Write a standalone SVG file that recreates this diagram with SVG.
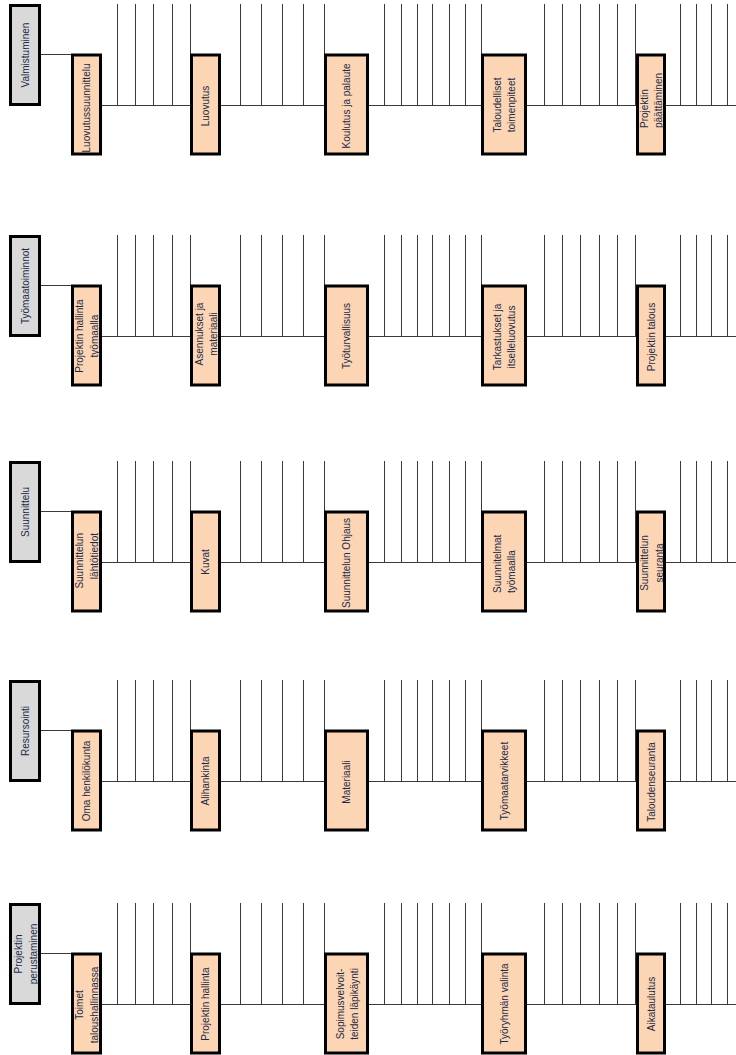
<svg xmlns="http://www.w3.org/2000/svg" xmlns:xlink="http://www.w3.org/1999/xlink" width="736" height="1055" viewBox="0 0 736 1055">
<style>
.ln{stroke:#3a3a3a;stroke-width:1;fill:none}
.hd{fill:#d9d9d9;stroke:#000;stroke-width:3}
.bx{fill:#fcd5b4;stroke:#000;stroke-width:3}
text{font-family:"Liberation Sans",Arial,sans-serif;font-size:10px;fill:#1b2a47;dominant-baseline:central}
.c{text-anchor:middle}
.s{text-anchor:start}
.e{text-anchor:end}
</style>
<defs>
<g id="band">
<path class="ln" d="M41,50.5H71 M102,101.5H736 M117.5,0V101.5 M135.5,0V101.5 M153.5,0V101.5 M172.5,0V101.5 M190.5,0V101.5 M240.5,0V101.5 M261.5,0V101.5 M282.5,0V101.5 M303.5,0V101.5 M324.5,0V101.5 M384.5,0V101.5 M401.5,0V101.5 M417.5,0V101.5 M432.5,0V101.5 M449.5,0V101.5 M465.5,0V101.5 M481.5,0V101.5 M544.5,0V101.5 M562.5,0V101.5 M580.5,0V101.5 M599.5,0V101.5 M617.5,0V101.5 M635.5,0V101.5 M680.5,0V101.5 M696.5,0V101.5 M711.5,0V101.5 M727.5,0V101.5"/>
</g>
</defs>
<g id="connectors">
<use xlink:href="#band" href="#band" transform="translate(0,4)"/>
<use xlink:href="#band" href="#band" transform="translate(0,235)"/>
<use xlink:href="#band" href="#band" transform="translate(0,461)"/>
<use xlink:href="#band" href="#band" transform="translate(0,680)"/>
<use xlink:href="#band" href="#band" transform="translate(0,903)"/>
</g>

<!-- Band 1 -->
<g id="valmistuminen"><rect class="hd" x="10.5" y="5.5" width="29" height="99"/><text class="c" transform="translate(25,55) rotate(-90)">Valmistuminen</text></g>
<g id="luovutussuunnittelu"><rect class="bx" x="72.5" y="55" width="28" height="99"/><text class="c" transform="translate(86.5,108) rotate(-90)">Luovutussuunnittelu</text></g>
<g id="luovutus"><rect class="bx" x="191.5" y="55" width="28" height="99"/><text class="c" transform="translate(205.5,106) rotate(-90)">Luovutus</text></g>
<g id="koulutus"><rect class="bx" x="325.5" y="55" width="42" height="99"/><text class="c" transform="translate(346.5,106) rotate(-90)">Koulutus ja palaute</text></g>
<g id="taloudelliset"><rect class="bx" x="482.5" y="55" width="43" height="99"/><text class="c" transform="translate(504,105) rotate(-90)"><tspan x="0" y="-7">Taloudelliset</tspan><tspan x="0" y="7">toimenpiteet</tspan></text></g>
<g id="paattaminen"><rect class="bx" x="637.5" y="55" width="27" height="99"/><text class="s" transform="translate(651,128) rotate(-90)"><tspan x="0" y="-7">Projektin</tspan><tspan x="0" y="7">päättäminen</tspan></text></g>

<!-- Band 2 -->
<g id="tyomaatoiminnot"><rect class="hd" x="10.5" y="236.5" width="29" height="99"/><text class="c" transform="translate(25,286) rotate(-90)">Työmaatoiminnot</text></g>
<g id="hallinta-tyomaalla"><rect class="bx" x="72.5" y="286" width="28" height="99"/><text class="c" transform="translate(86.5,336) rotate(-90)"><tspan x="0" y="-7.5">Projektin hallinta</tspan><tspan x="0" y="7.5">työmaalla</tspan></text></g>
<g id="asennukset"><rect class="bx" x="191.5" y="286" width="28" height="99"/><text class="c" transform="translate(205.5,334) rotate(-90)"><tspan x="0" y="-7">Asennukset ja</tspan><tspan x="0" y="7">materiaali</tspan></text></g>
<g id="tyoturvallisuus"><rect class="bx" x="325.5" y="286" width="42" height="99"/><text class="c" transform="translate(346.5,336) rotate(-90)">Työturvallisuus</text></g>
<g id="tarkastukset"><rect class="bx" x="482.5" y="286" width="43" height="99"/><text class="c" transform="translate(504,337) rotate(-90)"><tspan x="0" y="-7">Tarkastukset ja</tspan><tspan x="0" y="7">itselleluovutus</tspan></text></g>
<g id="projektin-talous"><rect class="bx" x="637.5" y="286" width="27" height="99"/><text class="c" transform="translate(651,337) rotate(-90)">Projektin talous</text></g>

<!-- Band 3 -->
<g id="suunnittelu"><rect class="hd" x="10.5" y="462.5" width="29" height="99"/><text class="c" transform="translate(25,512) rotate(-90)">Suunnittelu</text></g>
<g id="lahtotiedot"><rect class="bx" x="72.5" y="512" width="28" height="99"/><text class="e" transform="translate(86.5,533) rotate(-90)"><tspan x="0" y="-7.5">Suunnittelun</tspan><tspan x="0" y="7.5">lähtötiedot</tspan></text></g>
<g id="kuvat"><rect class="bx" x="191.5" y="512" width="28" height="99"/><text class="c" transform="translate(205.5,562) rotate(-90)">Kuvat</text></g>
<g id="ohjaus"><rect class="bx" x="325.5" y="512" width="42" height="99"/><text class="c" transform="translate(346.5,563) rotate(-90)">Suunnittelun Ohjaus</text></g>
<g id="suunnitelmat"><rect class="bx" x="482.5" y="512" width="43" height="99"/><text class="s" transform="translate(504,593) rotate(-90)"><tspan x="0" y="-7">Suunnitelmat</tspan><tspan x="0" y="6.5">työmaalla</tspan></text></g>
<g id="seuranta"><rect class="bx" x="637.5" y="512" width="27" height="99"/><text class="c" transform="translate(651,563) rotate(-90)"><tspan x="0" y="-7.5">Suunnittelun</tspan><tspan x="0" y="7.5">seuranta</tspan></text></g>

<!-- Band 4 -->
<g id="resursointi"><rect class="hd" x="10.5" y="681.5" width="29" height="99"/><text class="c" transform="translate(25,731) rotate(-90)">Resursointi</text></g>
<g id="oma-henkilokunta"><rect class="bx" x="72.5" y="731" width="28" height="99"/><text class="c" transform="translate(86.5,781) rotate(-90)">Oma henkilökunta</text></g>
<g id="alihankinta"><rect class="bx" x="191.5" y="731" width="28" height="99"/><text class="c" transform="translate(205.5,781) rotate(-90)">Alihankinta</text></g>
<g id="materiaali"><rect class="bx" x="325.5" y="731" width="42" height="99"/><text class="c" transform="translate(346.5,782) rotate(-90)">Materiaali</text></g>
<g id="tyomaatarvikkeet"><rect class="bx" x="482.5" y="731" width="43" height="99"/><text class="c" transform="translate(504,781) rotate(-90)">Työmaatarvikkeet</text></g>
<g id="taloudenseuranta"><rect class="bx" x="637.5" y="731" width="27" height="99"/><text class="c" transform="translate(651,782) rotate(-90)">Taloudenseuranta</text></g>

<!-- Band 5 -->
<g id="perustaminen"><rect class="hd" x="10.5" y="904.5" width="29" height="99"/><text class="c" transform="translate(25,954) rotate(-90)"><tspan x="0" y="-7.5">Projektin</tspan><tspan x="0" y="7.5">perustaminen</tspan></text></g>
<g id="toimet"><rect class="bx" x="72.5" y="954" width="28" height="99"/><text class="c" transform="translate(86.5,1005) rotate(-90)"><tspan x="0" y="-7.5">Toimet</tspan><tspan x="0" y="7.5">taloushallinnassa</tspan></text></g>
<g id="projektin-hallinta"><rect class="bx" x="191.5" y="954" width="28" height="99"/><text class="c" transform="translate(205.5,1004) rotate(-90)">Projektin hallinta</text></g>
<g id="sopimusvelvoitteet"><rect class="bx" x="325.5" y="954" width="42" height="99"/><text class="c" transform="translate(346.5,1004) rotate(-90)"><tspan x="0" y="-7">Sopimusvelvoit-</tspan><tspan x="0" y="7">teiden läpikäynti</tspan></text></g>
<g id="tyoryhma"><rect class="bx" x="482.5" y="954" width="43" height="99"/><text class="c" transform="translate(504,1004) rotate(-90)">Työryhmän valinta</text></g>
<g id="aikataulutus"><rect class="bx" x="637.5" y="954" width="27" height="99"/><text class="c" transform="translate(651,1004) rotate(-90)">Aikataulutus</text></g>
</svg>
